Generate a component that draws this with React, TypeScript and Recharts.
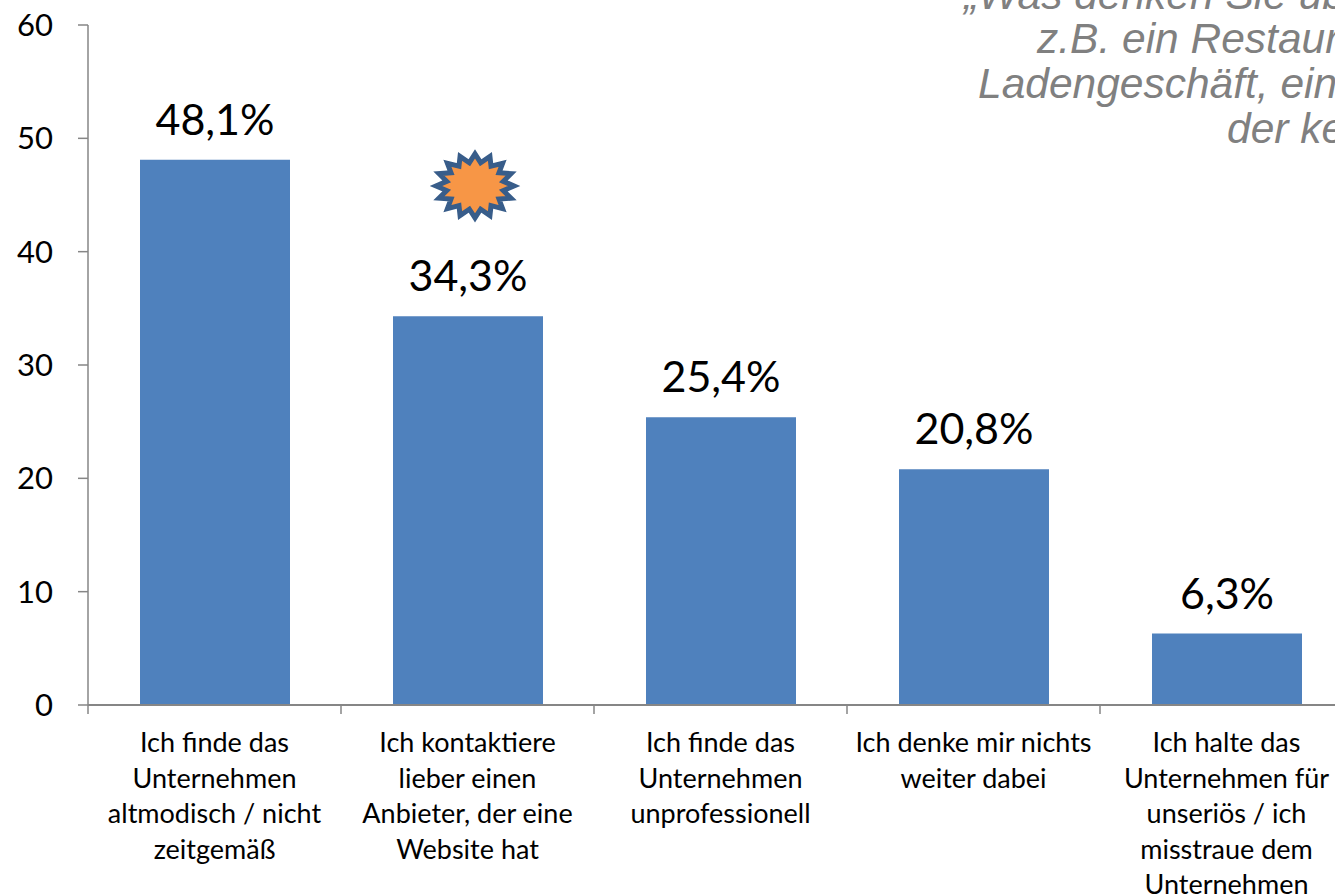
import { BarChart, Bar, XAxis, YAxis, LabelList, ReferenceDot } from 'recharts';

const categories = [
    'Ich finde das|Unternehmen|altmodisch / nicht|zeitgemäß',
    'Ich kontaktiere|lieber einen|Anbieter, der eine|Website hat',
    'Ich finde das|Unternehmen|unprofessionell',
    'Ich denke mir nichts|weiter dabei',
    'Ich halte das|Unternehmen für|unseriös / ich|misstraue dem|Unternehmen',
];
const values = [48.1, 34.3, 25.4, 20.8, 6.3];
const valueTicks = [0, 10, 20, 30, 40, 50, 60];
const titleLines = ['„Was denken Sie üb', 'z.B. ein Restaur', 'Ladengeschäft, ein', 'der ke'];
const titleLeft = [964, 1037, 978, 1227];
const titleBaseline = [9, 53, 98, 143];

const data = categories.map((name, i) => ({ name, value: values[i] }));

const FONT = 'Lato, "Open Sans", sans-serif';
const BAND = 253;

function CategoryTick({ x, y, payload }: any) {
    const lines = String(payload.value).split('|');
    return (
        <g>
            <line x1={x - BAND / 2} x2={x - BAND / 2} y1={y - 8} y2={y + 1} stroke="#868686" strokeWidth={1.5} />
            <text x={x} y={y + 39} textAnchor="middle" fontFamily={FONT} fontSize={27} fill="#000">
                {lines.map((line, i) => (
                    <tspan key={i} x={x} dy={i === 0 ? 0 : 35.5}>{line}</tspan>
                ))}
            </text>
        </g>
    );
}

function Burst({ cx, cy }: any) {
    const spikes = 16;
    const pts: string[] = [];
    for (let i = 0; i < spikes * 2; i++) {
        const a = (Math.PI * i) / spikes;
        const k = i % 2 === 0 ? 1 : 0.74;
        pts.push(`${cx + 7.5 + 39 * k * Math.cos(a)},${cy + 32 * k * Math.sin(a)}`);
    }
    return <polygon points={pts.join(' ')} fill="#F79646" stroke="#385D8A" strokeWidth={5} />;
}

export default function App() {
    return (
        <div style={{ position: 'absolute', left: 0, top: 0, width: 1335, height: 896, overflow: 'hidden', background: '#fff' }}>
            <BarChart
                width={1353}
                height={896}
                data={data}
                margin={{ top: 25, right: 0, bottom: 0, left: 0 }}
            >
                <XAxis
                    dataKey="name"
                    height={191}
                    interval={0}
                    axisLine={{ stroke: '#868686', strokeWidth: 2 }}
                    tickLine={false}
                    tick={<CategoryTick />}
                />
                <YAxis
                    width={88}
                    domain={[0, 60]}
                    ticks={valueTicks}
                    interval={0}
                    axisLine={{ stroke: '#868686', strokeWidth: 1.5 }}
                    tickLine={{ stroke: '#868686', strokeWidth: 1.5 }}
                    tickSize={10}
                    tickMargin={25}
                    tick={{ fontFamily: FONT, fontSize: 31, fill: '#000' }}
                />
                <Bar dataKey="value" fill="#4F81BD" barSize={150} isAnimationActive={false}>
                    <LabelList
                        dataKey="value"
                        position="top"
                        offset={25}
                        formatter={(v: any) => `${String(v).replace('.', ',')}%`}
                        style={{ fontFamily: FONT, fontSize: 43, fill: '#000' }}
                    />
                </Bar>
                <ReferenceDot x={categories[1]} y={45.8} r={1} shape={<Burst />} isFront />
                {titleLines.map((line, i) => (
                    <text
                        key={line}
                        x={titleLeft[i]}
                        y={titleBaseline[i]}
                        fontFamily='"Liberation Sans", Arial, sans-serif'
                        fontStyle="italic"
                        fontSize={42.5}
                        fill="#808080"
                    >
                        {line}
                    </text>
                ))}
            </BarChart>
        </div>
    );
}
